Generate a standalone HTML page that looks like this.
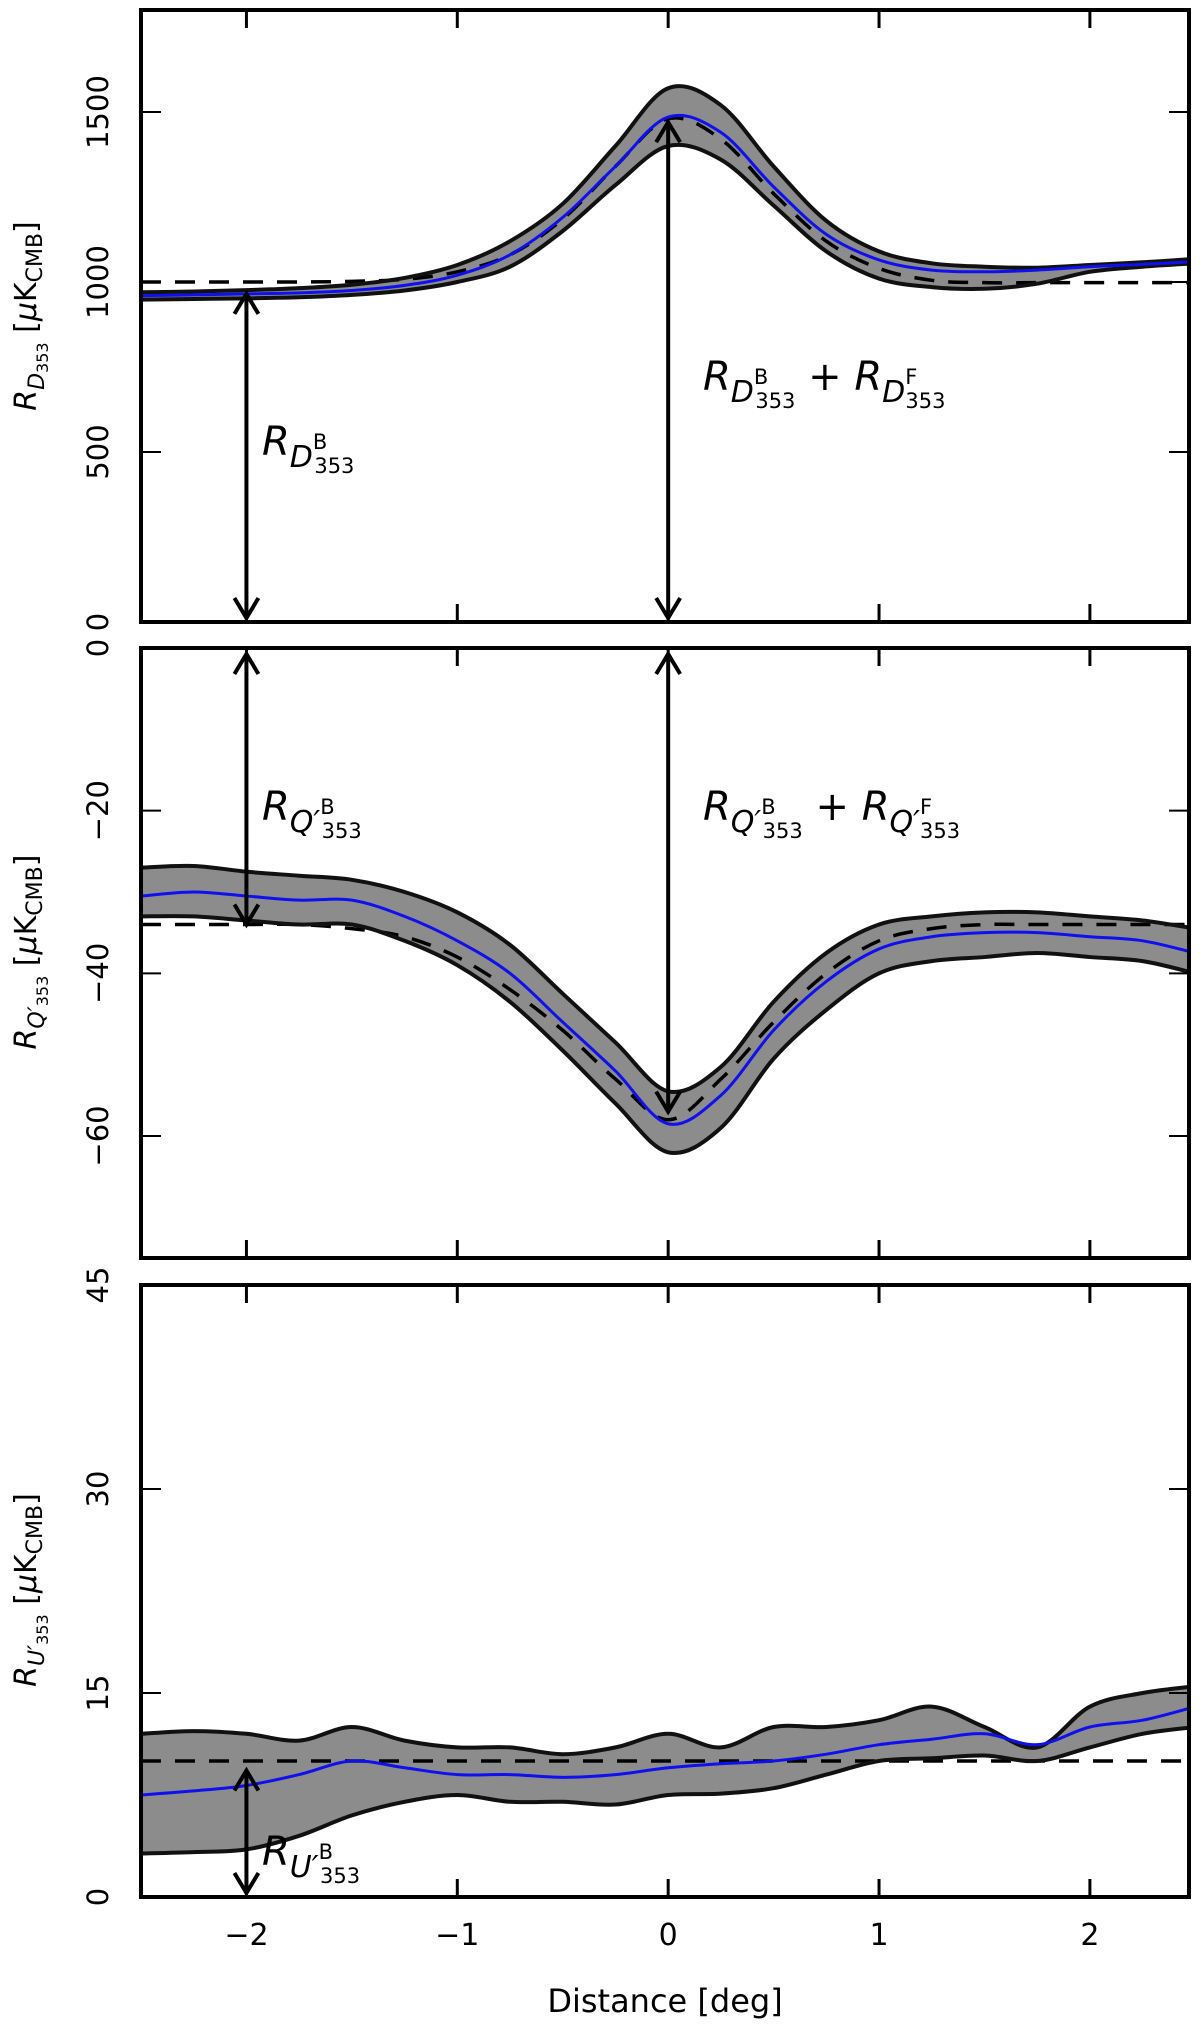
<!DOCTYPE html>
<html><head><meta charset="utf-8"><style>
html,body{margin:0;padding:0;background:#fff}
svg{display:block}
text{font-family:"DejaVu Sans","Liberation Sans",sans-serif;fill:#000}
.it{font-style:italic}
</style></head><body>
<svg id="fig" width="1200" height="2032" viewBox="0 0 1200 2032" xmlns="http://www.w3.org/2000/svg"></svg>
<script>
const xs = [-2.5,-2.25,-2,-1.75,-1.5,-1.25,-1,-0.75,-0.5,-0.25,0,0.25,0.5,0.75,1,1.25,1.5,1.75,2,2.25,2.5];
const xTicks = [-2,-1,0,1,2];
const xTickLabels = ["\u22122","\u22121","0","1","2"];
// Panel D
const dBlue  = [960,962,965,968,975,990,1020,1080,1190,1340,1485,1440,1280,1140,1065,1035,1030,1035,1045,1052,1060];
const dUpper = [970,972,976,982,992,1012,1050,1120,1230,1400,1570,1520,1340,1180,1090,1055,1045,1042,1050,1058,1068];
const dLower = [948,950,952,955,962,975,1000,1045,1150,1285,1400,1360,1225,1090,1010,985,980,995,1030,1045,1055];
const dModel = [1000,1000,1000,1000,1002,1008,1030,1080,1185,1340,1480,1420,1260,1120,1040,1005,998,998,998,998,998];
const dTicks = [0,500,1000,1500];
// Panel Q
const qBlue  = [-30.5,-30,-30.5,-31,-31,-33,-36,-40,-46,-52,-58.5,-55,-47,-41,-37,-35.5,-35,-35,-35.5,-36,-37.5];
const qUpper = [-27,-26.8,-27.5,-28,-28.5,-30,-32.5,-36.5,-42.5,-48.5,-54.5,-51.5,-43.5,-37.5,-34,-33,-32.5,-32.5,-33,-33.5,-34.5];
const qLower = [-33,-33,-33.5,-34,-34,-36,-39,-43.5,-49.5,-56,-62,-59,-50.5,-44.5,-40,-38.5,-38,-37.5,-38,-38.5,-40];
const qModel = [-34,-34,-34,-34,-34.5,-35.5,-38,-42,-47,-53,-58,-53,-46,-40,-36,-34.5,-34,-34,-34,-34,-34];
const qTicks = [0,-20,-40,-60];
// Panel U
const uBlue  = [7.5,7.8,8.2,9,10,9.5,9,9,8.8,9,9.5,9.8,10,10.5,11.2,11.6,12,11.2,12.5,13,14];
const uUpper = [12,12.2,12,11.5,12.5,11.5,11,11,10.5,11,12,11,12.5,12.5,13,14,12.5,11,14,15,15.5];
const uLower = [3.2,3.3,3.5,4.5,6,7,7.5,7,7,6.8,7.5,7.6,8,9,10,10.2,10.4,10,11,12,12.5];
const uModel = [10,10,10,10,10,10,10,10,10,10,10,10,10,10,10,10,10,10,10,10,10];
const uTicks = [0,15,30,45];

const NS="http://www.w3.org/2000/svg";
const svg=document.getElementById('fig');
function el(tag,attrs,parent){const e=document.createElementNS(NS,tag);for(const k in attrs)e.setAttribute(k,attrs[k]);(parent||svg).appendChild(e);return e;}
const L=141,R=1189,XMIN=-2.5,XMAX=2.47;
const sx=v=>L+(v-XMIN)/(XMAX-XMIN)*(R-L);

// Catmull-Rom smoothed path through points; 'cont' continues an existing path
function smooth(pts,cont){
  let d=(cont?'L':'M')+pts[0][0]+','+pts[0][1];
  for(let i=0;i<pts.length-1;i++){
    const p0=pts[Math.max(i-1,0)],p1=pts[i],p2=pts[i+1],p3=pts[Math.min(i+2,pts.length-1)];
    const c1x=p1[0]+(p2[0]-p0[0])/6,c1y=p1[1]+(p2[1]-p0[1])/6;
    const c2x=p2[0]-(p3[0]-p1[0])/6,c2y=p2[1]-(p3[1]-p1[1])/6;
    d+=`C${c1x},${c1y} ${c2x},${c2y} ${p2[0]},${p2[1]}`;
  }
  return d;
}

function panel(name,top,bot,ymin,ymax,blue,upper,lower,model,ticks,tickLabels){
  const g=el('g',{});
  
  
  const sy=v=>bot-(v-ymin)/(ymax-ymin)*(bot-top);
  const cp=el('clipPath',{id:'clip-'+name},g);
  el('rect',{x:L,y:top,width:R-L,height:bot-top},cp);
  const inner=el('g',{'clip-path':'url(#clip-'+name+')'},g);
  const P=arr=>arr.map((v,i)=>[sx(xs[i]),sy(v)]);
  const d=smooth(P(upper))+smooth(P(lower).reverse(),true)+'Z';
  const band=el('path',{d:d,fill:'#8c8c8c',stroke:'none'},inner);
  
  
  const line=(arr,attrs,nm)=>{const p=el('path',Object.assign({d:smooth(P(arr)),fill:'none','stroke-linejoin':'round'},attrs),inner);
    
    };
  line(model,{stroke:'#000','stroke-width':3.5,'stroke-dasharray':'20,14'},name+'-model-dashed');
  line(upper,{stroke:'#111','stroke-width':4},name+'-band-upper');
  line(lower,{stroke:'#111','stroke-width':4},name+'-band-lower');
  line(blue,{stroke:'#1010ee','stroke-width':3},name+'-mean-line');
  const fr=el('rect',{x:L,y:top,width:R-L,height:bot-top,fill:'none',stroke:'#000','stroke-width':4},g);
  
  
  xTicks.forEach(t=>{const X=sx(t);
    el('line',{x1:X,y1:bot,x2:X,y2:bot-18,stroke:'#000','stroke-width':3},g);
    el('line',{x1:X,y1:top,x2:X,y2:top+18,stroke:'#000','stroke-width':3},g);});
  ticks.forEach((t,i)=>{const Y=sy(t);
    el('line',{x1:L,y1:Y,x2:L+20,y2:Y,stroke:'#000','stroke-width':2},g);
    el('line',{x1:R,y1:Y,x2:R-20,y2:Y,stroke:'#000','stroke-width':2},g);
    const tx=el('text',{x:0,y:0,'font-size':29,'text-anchor':'middle',transform:'translate(108,'+Y+') rotate(-90)'},g);
    tx.textContent=tickLabels[i];
    
    });
  return sy;
}
function arrow(x,y1,y2,nm){
  const g=el('g',{stroke:'#000','stroke-width':4,fill:'none'});
  
  
  el('line',{x1:x,y1:y1,x2:x,y2:y2},g);
  const s=Math.sign(y2-y1);
  el('path',{d:`M${x-12},${y1+s*20}L${x},${y1}L${x+12},${y1+s*20}`},g);
  el('path',{d:`M${x-12},${y2-s*20}L${x},${y2}L${x+12},${y2-s*20}`},g);
}
function label(x,y,html,nm){
  const t=el('text',{x:x,y:y,'font-size':40});
  t.innerHTML=html;
  
  
}
function ylabel(y,html,nm){
  const t=el('text',{x:0,y:0,'font-size':30,'text-anchor':'middle',transform:'translate(36,'+y+') rotate(-90)'});
  t.innerHTML=html;
  
  
}
const syD=panel('d353',10,622,0,1800,dBlue,dUpper,dLower,dModel,dTicks,["0","500","1000","1500"]);
const syQ=panel('q353',648,1258,-75,0,qBlue,qUpper,qLower,qModel,qTicks,["0","\u221220","\u221240","\u221260"]);
const syU=panel('u353',1285,1897,0,45,uBlue,uUpper,uLower,uModel,uTicks,["0","15","30","45"]);

arrow(sx(-2),syD(965),syD(0)-4,'arrow-d-background');
arrow(sx(0),syD(1470),syD(0)-4,'arrow-d-total');
arrow(sx(-2),syQ(0)+6,syQ(-34),'arrow-q-background');
arrow(sx(0),syQ(0)+6,syQ(-57),'arrow-q-total');
arrow(sx(-2),syU(9.3),syU(0)-4,'arrow-u-background');

label(262,455,'<tspan class="it">R</tspan><tspan font-size="30" dy="12" class="it">D</tspan><tspan font-size="21" dy="-18">B</tspan><tspan font-size="21" dx="-13" dy="24">353</tspan>','label-d-background');
label(703,390,'<tspan class="it">R</tspan><tspan font-size="30" dy="12" class="it">D</tspan><tspan font-size="21" dy="-18">B</tspan><tspan font-size="21" dx="-13" dy="24">353</tspan><tspan dy="-18"> + </tspan><tspan class="it">R</tspan><tspan font-size="30" dy="12" class="it">D</tspan><tspan font-size="21" dy="-18">F</tspan><tspan font-size="21" dx="-12" dy="24">353</tspan>','label-d-total');
label(262,820,'<tspan class="it">R</tspan><tspan font-size="30" dy="12" class="it">Q′</tspan><tspan font-size="21" dy="-18">B</tspan><tspan font-size="21" dx="-13" dy="24">353</tspan>','label-q-background');
label(703,820,'<tspan class="it">R</tspan><tspan font-size="30" dy="12" class="it">Q′</tspan><tspan font-size="21" dy="-18">B</tspan><tspan font-size="21" dx="-13" dy="24">353</tspan><tspan dy="-18"> + </tspan><tspan class="it">R</tspan><tspan font-size="30" dy="12" class="it">Q′</tspan><tspan font-size="21" dy="-18">F</tspan><tspan font-size="21" dx="-12" dy="24">353</tspan>','label-q-total');
label(262,1865,'<tspan class="it">R</tspan><tspan font-size="30" dy="12" class="it">U′</tspan><tspan font-size="21" dy="-18">B</tspan><tspan font-size="21" dx="-13" dy="24">353</tspan>','label-u-background');

ylabel(316,'<tspan class="it">R</tspan><tspan font-size="22" dy="8" class="it">D</tspan><tspan font-size="16" dy="4">353</tspan><tspan dy="-12"> [</tspan><tspan class="it">μ</tspan>K<tspan font-size="22" dy="6">CMB</tspan><tspan dy="-6">]</tspan>','y-axis-title-d');
ylabel(952,'<tspan class="it">R</tspan><tspan font-size="22" dy="8" class="it">Q′</tspan><tspan font-size="16" dy="4">353</tspan><tspan dy="-12"> [</tspan><tspan class="it">μ</tspan>K<tspan font-size="22" dy="6">CMB</tspan><tspan dy="-6">]</tspan>','y-axis-title-q');
ylabel(1590,'<tspan class="it">R</tspan><tspan font-size="22" dy="8" class="it">U′</tspan><tspan font-size="16" dy="4">353</tspan><tspan dy="-12"> [</tspan><tspan class="it">μ</tspan>K<tspan font-size="22" dy="6">CMB</tspan><tspan dy="-6">]</tspan>','y-axis-title-u');

xTicks.forEach((t,i)=>{const tx=el('text',{x:sx(t),y:1945,'font-size':30,'text-anchor':'middle'});
  tx.textContent=xTickLabels[i];
  
  });
const xt=el('text',{x:665,y:2012,'font-size':32,'text-anchor':'middle'});
xt.textContent='Distance [deg]';


</script>
</body></html>
